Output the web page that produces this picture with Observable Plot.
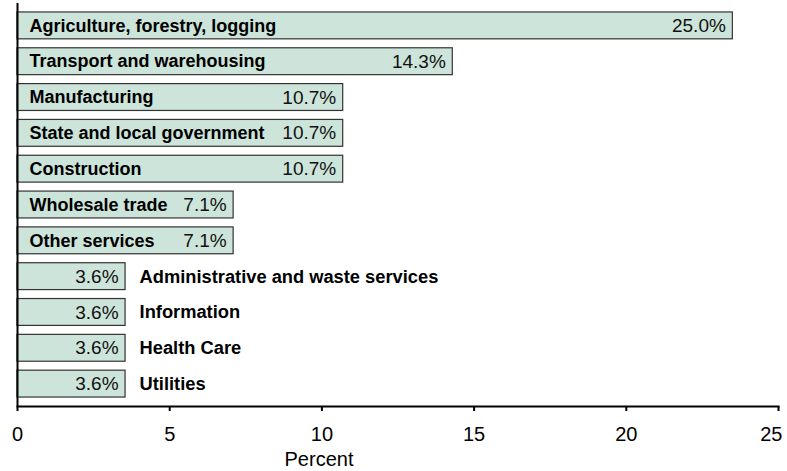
<!DOCTYPE html>
<html>
<head>
<meta charset="utf-8">
<script src="https://cdn.jsdelivr.net/npm/d3@7"></script>
<script src="https://cdn.jsdelivr.net/npm/@observablehq/plot@0.6"></script>
<style>
  html, body { margin: 0; padding: 0; background: #fff; }
  #chart svg { display: block; }
</style>
</head>
<body>
<div id="chart"></div>
<script>
const categories = [
  "Agriculture, forestry, logging",
  "Transport and warehousing",
  "Manufacturing",
  "State and local government",
  "Construction",
  "Wholesale trade",
  "Other services",
  "Administrative and waste services",
  "Information",
  "Health Care",
  "Utilities"
];
const values = [23.5, 14.3, 10.7, 10.7, 10.7, 7.1, 7.1, 3.55, 3.55, 3.55, 3.55];
const valueLabels = ["25.0%", "14.3%", "10.7%", "10.7%", "10.7%", "7.1%", "7.1%", "3.6%", "3.6%", "3.6%", "3.6%"];
const xTicks = [0, 5, 10, 15, 20, 25];
const axisTitle = "Percent";

const data = categories.map((c, i) => ({category: c, value: values[i], label: valueLabels[i]}));
const inside = data.filter(d => d.value > 5);
const outside = data.filter(d => d.value <= 5);
const lastTick = xTicks[xTicks.length - 1];

const font = "Liberation Sans, Arial, Helvetica, sans-serif";

const chart = Plot.plot({
  width: 787,
  height: 471,
  marginTop: 3,
  marginBottom: 65,
  marginLeft: 17,
  marginRight: 9,
  style: {fontFamily: font, background: "#fff"},
  x: {domain: [0, 25], ticks: xTicks, axis: null},
  y: {domain: categories, padding: 0.25, round: false, axis: null},
  marks: [
    Plot.barX(data, {x: "value", y: "category", fill: "#cde4da", stroke: "#333", strokeWidth: 1.2}),
    Plot.text(inside, {x: 0, y: "category", text: "category", textAnchor: "start", dx: 12, fontWeight: "bold", fontSize: 18, fill: "#000"}),
    Plot.text(outside, {x: "value", y: "category", text: "category", textAnchor: "start", dx: 14, fontWeight: "bold", fontSize: 18.3, fill: "#000"}),
    Plot.text(data, {x: "value", y: "category", text: "label", textAnchor: "end", dx: -7, fontSize: 19, fill: "#111"}),
    Plot.ruleX([0], {stroke: "#000", strokeWidth: 2}),
    Plot.frame({anchor: "bottom", stroke: "#000", strokeWidth: 2}),
    Plot.axisX({ticks: xTicks, tickSize: 5, tickPadding: 15, fontSize: 20, stroke: "#000", strokeWidth: 2, label: null, text: null}),
    Plot.axisX({ticks: xTicks.filter(t => t !== lastTick), tickSize: 0, tickPadding: 20, fontSize: 20, label: null, tickFormat: d => String(d)}),
    Plot.axisX({ticks: [lastTick], tickSize: 0, tickPadding: 20, fontSize: 20, label: null, textAnchor: "end", dx: 4, tickFormat: d => String(d)}),
    Plot.text([axisTitle], {frameAnchor: "bottom", dx: -79, dy: 59, fontSize: 20, fill: "#000"})
  ]
});
document.getElementById("chart").appendChild(chart);
</script>
</body>
</html>
